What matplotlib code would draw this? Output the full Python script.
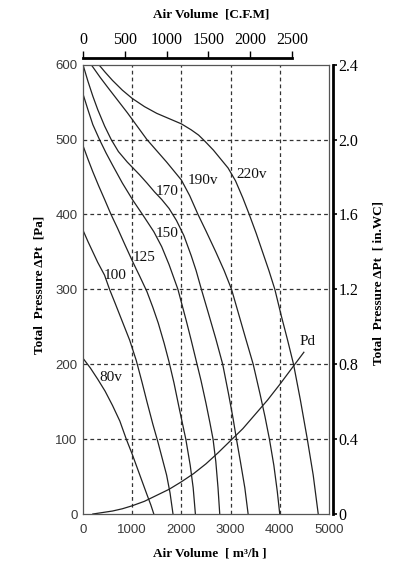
import numpy as np
import matplotlib
matplotlib.use("Agg")
import matplotlib.pyplot as plt
from matplotlib.ticker import FuncFormatter

# fan curves, air volume [m3/h] vs total pressure [Pa]
q_80 = [0, 150, 300, 450, 600, 750, 880, 1000, 1100, 1200, 1300, 1380, 1440]
p_80 = [208, 195, 180, 164, 145, 124, 100, 80, 62, 44, 26, 12, 0]

q_100 = [0, 100, 200, 300, 438, 540, 650, 800, 950, 1083, 1200, 1300, 1420,
         1524, 1620, 1700, 1770, 1830]
p_100 = [379, 364, 350, 336, 319, 300, 282, 257, 232, 205, 176, 150, 120,
         96, 72, 52, 28, 0]

q_125 = [0, 100, 200, 320, 440, 570, 700, 850, 1010, 1150, 1300, 1420, 1530,
         1650, 1750, 1850, 1960, 2090, 2180, 2240, 2285]
p_125 = [492, 474, 457, 438, 420, 400, 382, 360, 337, 318, 297, 276, 255,
         228, 203, 175, 140, 100, 65, 35, 0]

q_150 = [0, 100, 200, 336, 470, 600, 800, 1014, 1230, 1440, 1600, 1750, 1930,
         2100, 2200, 2300, 2400, 2500, 2580, 2644, 2700, 2745, 2780]
p_150 = [561, 540, 520, 500, 482, 466, 442, 419, 398, 377, 357, 333, 300,
         258, 232, 205, 178, 148, 122, 100, 70, 35, 0]

q_170 = [0, 100, 200, 300, 440, 574, 720, 900, 1150, 1300, 1456, 1600, 1750,
         1900, 2050, 2200, 2300, 2407, 2550, 2700, 2840, 2960, 3050, 3120,
         3200, 3290, 3357]
p_170 = [600, 578, 558, 540, 518, 500, 484, 470, 453, 442, 430, 420, 408,
         392, 372, 345, 325, 300, 268, 234, 200, 160, 128, 100,
         70, 35, 0]

q_190 = [167, 350, 500, 700, 900, 1100, 1300, 1500, 1700, 1850, 2000, 2170,
         2338, 2500, 2700, 2870, 3020, 3160, 3300, 3460, 3600, 3700, 3790,
         3880, 3950, 4000]
p_190 = [600, 583, 570, 553, 536, 518, 500, 485, 470, 458, 446, 425,
         400, 378, 350, 325, 300, 268, 236, 200, 160, 130, 100,
         65, 30, 0]

q_220 = [322, 450, 600, 800, 1000, 1250, 1500, 1750, 2000, 2200, 2350, 2475,
         2650, 2800, 2950, 3100, 3250, 3380, 3520, 3650, 3780, 3900, 4030,
         4160, 4280, 4420, 4560, 4680, 4782]
p_220 = [600, 590, 579, 566, 555, 544, 535, 528, 521, 513, 506, 498,
         486, 474, 462, 445, 422, 400, 375, 350, 325, 300, 265,
         232, 200, 152, 100, 52, 0]

# dynamic pressure
q_pd = [200, 400, 600, 800, 1000, 1250, 1500, 1750, 2000, 2250, 2500, 2750,
        3000, 3250, 3500, 3750, 4000, 4250, 4490]
p_pd = [0, 2, 4, 7, 11, 17, 25, 33, 43, 54, 67, 82,
        98, 114, 133, 152, 173, 195, 216]

curves = [(q_80, p_80), (q_100, p_100), (q_125, p_125), (q_150, p_150),
          (q_170, p_170), (q_190, p_190), (q_220, p_220), (q_pd, p_pd)]

curve_labels = ['80v', '100', '125', '150', '170', '190v', '220v', 'Pd']
label_q = [560, 660, 1250, 1700, 1720, 2440, 3420, 4570]
label_p = [182, 318, 343, 374, 430, 445, 454, 231]

x_ticks = [0, 1000, 2000, 3000, 4000, 5000]
y_ticks = [0, 100, 200, 300, 400, 500, 600]
cfm_ticks = [0, 500, 1000, 1500, 2000, 2500]
wc_ticks = [0, 0.4, 0.8, 1.2, 1.6, 2.0, 2.4]

serif = 'Liberation Serif'
sans = 'Liberation Sans'

fig = plt.figure(figsize=(3.98, 5.74), dpi=100)
ax = fig.add_axes([0.2085, 0.1045, 0.618, 0.7828])

for q, p in curves:
    ax.plot(q, p, color='#222222', lw=0.9)

for t, q, p in zip(curve_labels, label_q, label_p):
    ax.text(q, p, t, fontsize=11, family=serif, ha='center', va='center', color='#111111')

ax.set_xlim(0, 5000)
ax.set_ylim(0, 600)
ax.set_xticks(x_ticks)
ax.set_yticks(y_ticks)
ax.tick_params(length=0, labelsize=9.5, labelcolor='#3a3a3a')
ax.tick_params(axis='x', pad=7)
ax.tick_params(axis='y', pad=4)
for lab in ax.get_xticklabels() + ax.get_yticklabels():
    lab.set_family(sans)

# dashed grid, not on the frame
for gx in x_ticks[1:-1]:
    ax.axvline(gx, color='#333333', lw=0.9, ls=(0, (3, 2.5)), zorder=0)
for gy in y_ticks[1:-1]:
    ax.axhline(gy, color='#333333', lw=0.9, ls=(0, (3, 2.5)), zorder=0)

for s in ax.spines.values():
    s.set_color('#555555')
    s.set_linewidth(0.9)

# top axis in CFM
top = ax.secondary_xaxis('top', functions=(lambda q: q / 1.699, lambda c: c * 1.699))
top.set_xticks(cfm_ticks)
top.spines['top'].set_position(('outward', 5))
top.spines['top'].set_bounds(0, 2500)
top.spines['top'].set_linewidth(2)
top.tick_params(direction='out', length=5, width=1, pad=2, labelsize=11.5)
for lab in top.get_xticklabels():
    lab.set_family(serif)

# right axis in inch water column
right = ax.secondary_yaxis('right', functions=(lambda p: p / 250, lambda w: w * 250))
right.set_yticks(wc_ticks)
right.yaxis.set_major_formatter(FuncFormatter(lambda v, pos: '0' if v == 0 else '%.1f' % v))
right.spines['right'].set_position(('outward', 3))
right.spines['right'].set_linewidth(2)
right.tick_params(direction='out', length=3, width=1.2, pad=1, labelsize=11.5)
for lab in right.get_yticklabels():
    lab.set_family(serif)

fig.text(0.53, 0.975, 'Air Volume  [C.F.M]', fontsize=9.5, family=serif,
         weight='bold', ha='center', va='center')
fig.text(0.528, 0.036, 'Air Volume  [ m³/h ]', fontsize=9.5, family=serif,
         weight='bold', ha='center', va='center')
fig.text(0.1, 0.503, 'Total  Pressure ΔPt  [Pa]', fontsize=9.5, family=serif,
         weight='bold', ha='center', va='center', rotation=90)
fig.text(0.95, 0.507, 'Total  Pressure ΔPt  [ in.WC]', fontsize=9.5, family=serif,
         weight='bold', ha='center', va='center', rotation=90)

fig.savefig('out.png', dpi=100)
